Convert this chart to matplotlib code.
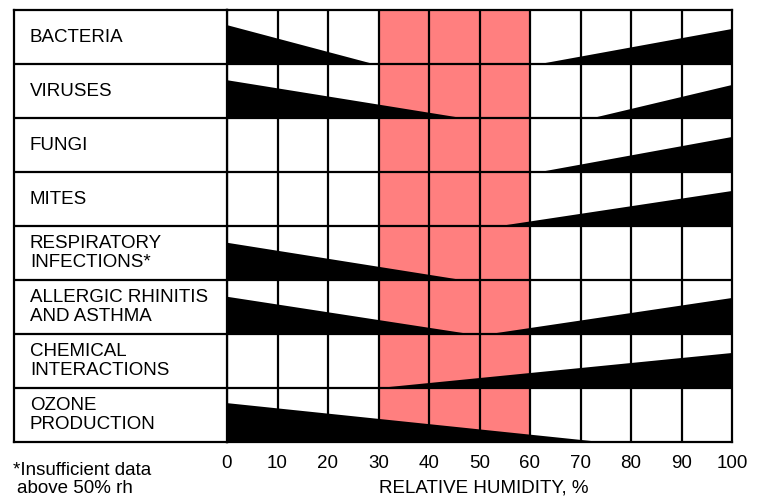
import matplotlib.pyplot as plt

plt.rcParams['font.family'] = ['Liberation Sans', 'DejaVu Sans']

# row labels, top to bottom
labels = ['BACTERIA', 'VIRUSES', 'FUNGI', 'MITES',
          'RESPIRATORY\nINFECTIONS*', 'ALLERGIC RHINITIS\nAND ASTHMA',
          'CHEMICAL\nINTERACTIONS', 'OZONE\nPRODUCTION']

# left wedges: height (fraction of row) at 0 % rh, tapering to 0 at end
left_end = [29, 46.5, None, None, 46.5, 48, None, 74]
left_h = [0.72, 0.70, None, None, 0.69, 0.69, None, 0.72]

# right wedges: start at 0 height, growing to height at 100 % rh
right_start = [62, 72.5, 62, 54, None, 52, 30, None]
right_h = [0.65, 0.61, 0.65, 0.65, None, 0.67, 0.65, None]

optimum = (30, 60)
ticks = list(range(0, 101, 10))

W, H = 763, 498
fig = plt.figure(figsize=(W / 100, H / 100), dpi=100)

top, bot = 10, 442
x0, x1 = 227, 732
lab_x0 = 14

ax = fig.add_axes([x0 / W, 1 - bot / H, (x1 - x0) / W, (bot - top) / H])
lab = fig.add_axes([lab_x0 / W, 1 - bot / H, (x0 - lab_x0) / W, (bot - top) / H])

n = len(labels)
ax.set_xlim(0, 100)
ax.set_ylim(n, 0)

# optimum zone
ax.axvspan(optimum[0], optimum[1], color='#ff7f7f', lw=0, zorder=1)

# wedges
for i in range(n):
    base = i + 1
    if left_end[i] is not None:
        ax.fill([0, left_end[i], 0], [base, base, base - left_h[i]],
                color='black', lw=0, zorder=2)
    if right_start[i] is not None:
        ax.fill([right_start[i], 100, 100], [base, base, base - right_h[i]],
                color='black', lw=0, zorder=2)

# grid
for t in ticks[1:-1]:
    ax.axvline(t, color='black', lw=1.6, zorder=3)
for r in range(1, n):
    ax.axhline(r, color='black', lw=1.6, zorder=3)
    lab.axhline(r, color='black', lw=1.6)

for a in (ax, lab):
    for s in a.spines.values():
        s.set_linewidth(1.6)
        s.set_zorder(4)

fs = 13.5
ax.set_xticks(ticks)
ax.set_xticklabels([str(t) for t in ticks], fontsize=fs)
ax.tick_params(axis='x', length=0, pad=9)
ax.set_yticks([])

lab.set_xlim(0, 1)
lab.set_ylim(n, 0)
lab.set_xticks([])
lab.set_yticks([])
for i, name in enumerate(labels):
    lab.text(0.075, i + 0.5, name, fontsize=fs, va='center', ha='left',
             linespacing=1.15)

fig.text(13 / W, 1 - 470 / H, '*Insufficient data', fontsize=fs, va='center')
fig.text(17 / W, 1 - 488 / H, 'above 50% rh', fontsize=fs, va='center')
fig.text(484 / W, 1 - 488 / H, 'RELATIVE HUMIDITY, %', fontsize=fs,
         va='center', ha='center')

fig.savefig('out.png', dpi=100)
